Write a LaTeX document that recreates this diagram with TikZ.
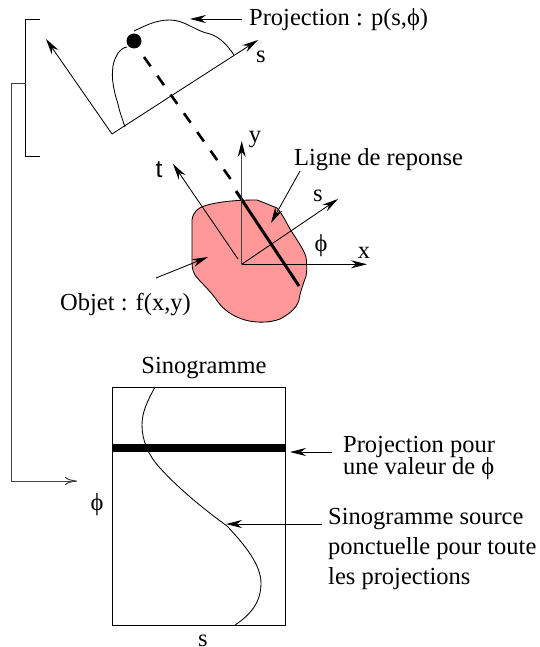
\documentclass[tikz,border=0pt]{standalone}
\usepackage{fontspec}
\setmainfont{Liberation Serif}
\usetikzlibrary{arrows.meta}
\definecolor{objfill}{RGB}{255,153,153}
\tikzset{
  lbl/.style={inner sep=0pt,font=\fontsize{24.5}{28}\selectfont,align=left},
  line/.style={draw=black,line width=0.85pt},
  grayline/.style={draw=black!75,line width=1pt},
  arr/.style={line,-{Stealth[length=16pt,width=8pt]}},
  openarr/.style={grayline,-{To[length=12pt,width=8pt]}}
}
\begin{document}
\begin{tikzpicture}[x=1pt,y=-1pt]
\useasboundingbox (0,0) rectangle (539,647);
% object
\path[fill=objfill,draw=black,line width=0.85pt] (192,260) .. controls (192,245) and (192,230) .. (192,220)
 .. controls (193,212) and (198,208) .. (204,206) .. controls (220,201) and (240,200) .. (257,200)
 .. controls (265,203) and (272,206) .. (277,208) .. controls (283,215) and (286,222) .. (290,229)
 .. controls (297,240) and (304,250) .. (306,257) .. controls (307,265) and (307,272) .. (306,276)
 .. controls (303,285) and (300,292) .. (299,300) .. controls (296,310) and (287,315) .. (280,319)
 .. controls (270,323) and (255,323) .. (245,320) .. controls (232,316) and (224,310) .. (218,302)
 .. controls (210,290) and (200,282) .. (195,275) .. controls (192,270) and (192,265) .. (192,260) -- cycle;
% named points
\coordinate (brT) at (40,19); \coordinate (brTL) at (25.5,19);
\coordinate (brBL) at (25.5,156); \coordinate (brB) at (40,156);
\coordinate (brM) at (25.5,84); \coordinate (lnA) at (11,84);
\coordinate (lnB) at (11,481); \coordinate (lnC) at (77,481);
\coordinate (pO) at (112,134); \coordinate (pT) at (46,39); \coordinate (pS) at (258,40);
\coordinate (O) at (241.7,264.3); \coordinate (Y) at (241.7,141);
\coordinate (X) at (367,264.3); \coordinate (S) at (338,199);
\coordinate (T0) at (238,259); \coordinate (T) at (173,164);
\node[circle,fill=black,minimum size=15pt,inner sep=0pt] (src) at (134,41) {};
\coordinate (d0) at (144,57); \coordinate (d1) at (232,181);
\coordinate (th0) at (236,191); \coordinate (th1) at (299,286);
% bracket and long connector
\draw[line] (brT) -- (brTL) -- (brBL) -- (brB);
\draw[openarr] (brM) -- (lnA) -- (lnB) -- (lnC);
% projection axes
\draw[arr] (pO) -- (pT);
\draw[arr] (pO) -- (pS);
% projection curve
\draw[line] (125,127) .. controls (122,118) and (119,110) .. (118,104)
 .. controls (114,92) and (111,78) .. (113,66) .. controls (115,56) and (120,48) .. (127,47);
\draw[line] (134,31) .. controls (145,26) and (155,20) .. (170,20)
 .. controls (185,20) and (195,31) .. (210,34) .. controls (220,37) and (228,46) .. (234,55);
% dashed and thick lines
\draw[black,line width=2.6pt,dash pattern=on 11.5pt off 11.5pt] (d0) -- (d1);
\draw[black,line width=3pt] (th0) -- (th1);
% object axes
\draw[grayline,-{Stealth[length=16pt,width=8pt,black]},line width=1pt] (O) -- (Y);
\draw[arr] (O) -- (X);
\draw[arr] (O) -- (S);
\draw[arr] (T0) -- (T);
% sinogram
\node[draw=black,line width=0.85pt,minimum width=173pt,minimum height=238pt,inner sep=0pt] (box) at (198.5,506) {};
\draw[black,line width=8pt] (box.west |- 0,448) -- (box.east |- 0,448);
\draw[line] (155,387) .. controls (147,402) and (142,412) .. (142,425)
 .. controls (142,440) and (148,455) .. (160,468) .. controls (180,490) and (205,510) .. (227,526)
 .. controls (245,545) and (261,565) .. (261,583) .. controls (261,603) and (250,615) .. (235,625);
% labels
\node[lbl,anchor=base west] (lProj) at (249,26) {Projection : p(s,\symbol{"03D5})};
\node[lbl,anchor=base] (ls1) at (261,63) {s};
\node[lbl,anchor=base] (ly) at (255,143) {y};
\node[lbl,anchor=base west] (lLigne) at (294,166) {Ligne de reponse};
\node[lbl,anchor=base] (lt) at (159,177) {\fontspec{Liberation Sans}t};
\node[lbl,anchor=base] (ls2) at (318,201) {s};
\node[lbl,anchor=base] (lphi) at (321,251) {\symbol{"03D5}};
\node[lbl,anchor=base] (lx) at (364,258) {x};
\node[lbl,anchor=base west] (lObj) at (60,310) {Objet : f(x,y)};
\node[lbl,anchor=base] (lSino) at (204,373) {Sinogramme};
\node[lbl,anchor=base west] (lPv) at (343,452) {Projection pour};
\node[lbl,anchor=base west] (lPv2) at (343,474) {une valeur de \symbol{"03D5}};
\node[lbl,anchor=base] (lphi2) at (97,510) {\symbol{"03D5}};
\node[lbl,anchor=base west] (lS1) at (328,524) {Sinogramme source};
\node[lbl,anchor=base west] (lS2) at (328,554) {ponctuelle pour toute};
\node[lbl,anchor=base west] (lS3) at (328,584) {les projections};
\node[lbl,anchor=base] (ls3) at (203,646) {s};
% label arrows
\coordinate (aP0) at (242,19); \coordinate (aP1) at (190,19);
\coordinate (aL0) at (300,171); \coordinate (aL1) at (271,223);
\coordinate (aO0) at (156,278); \coordinate (aO1) at (208,257);
\coordinate (aB0) at (332,452); \coordinate (aB1) at (290,452);
\coordinate (aC0) at (322,524); \coordinate (aC1) at (226,524);
\draw[arr] (aP0) -- (aP1);
\draw[arr] (aL0) -- (aL1);
\draw[arr] (aO0) -- (aO1);
\draw[arr] (aB0) -- (aB1);
\draw[arr] (aC0) -- (aC1);
\end{tikzpicture}
\end{document}
